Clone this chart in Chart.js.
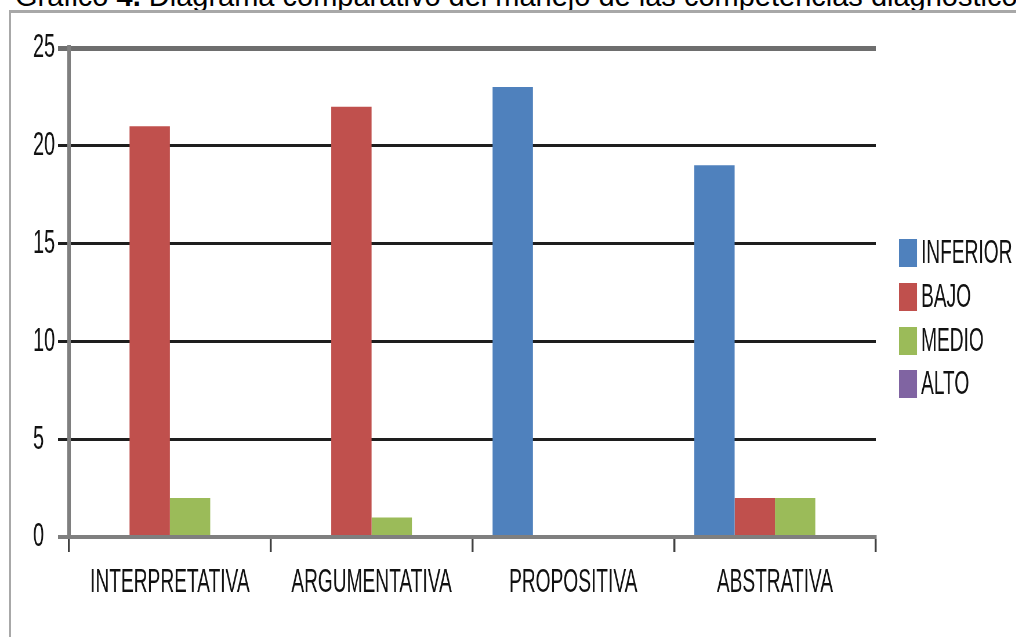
<!DOCTYPE html>
<html>
<head>
<meta charset="utf-8">
<script src="https://cdn.jsdelivr.net/npm/chart.js@4/dist/chart.umd.min.js"></script>
<style>
  html, body { margin: 0; padding: 0; background: #fff; width: 1016px; height: 637px; overflow: hidden; }
  #title { position: absolute; left: 15px; top: -18px; font-family: "Liberation Sans", Arial, sans-serif; font-size: 29px; line-height: 29px; color: #000; white-space: nowrap; }
  #frame { position: absolute; left: 9px; top: 10px; width: 1100px; height: 700px; border-left: 2px solid #a8a8a8; border-top: 3px solid #a8a8a8; }
  #wrap { position: absolute; left: 0; top: 0; width: 1752px; height: 637px; transform: scaleX(0.58); transform-origin: 0 0; }
</style>
</head>
<body>
<div id="title">Gráfico <b>4.</b> Diagrama comparativo del manejo de las competencias diagnóstico</div>
<div id="frame"></div>
<div id="wrap"><canvas id="c"></canvas></div>
<script>
const categories = ['INTERPRETATIVA', 'ARGUMENTATIVA', 'PROPOSITIVA', 'ABSTRATIVA'];
const seriesNames = ['INFERIOR', 'BAJO', 'MEDIO', 'ALTO'];
const inferior = [0, 0, 23, 19];
const bajo = [21, 22, 0, 2];
const medio = [2, 1, 0, 2];
const alto = [0, 0, 0, 0];
const yTicks = [0, 5, 10, 15, 20, 25];
const colors = ['#4F81BD', '#C0504D', '#9BBB59', '#8064A2'];

const S = 0.58;
const FONT = "'Liberation Sans', Arial, sans-serif";

const legendPlugin = {
  id: 'customLegend',
  afterDraw(chart) {
    const ctx = chart.ctx;
    const boxX = 899 / S, boxW = 18 / S, boxH = 28, textX = 921 / S;
    const centers = [253, 297, 341, 384];
    ctx.save();
    ctx.font = '33px ' + FONT;
    ctx.textBaseline = 'middle';
    ctx.textAlign = 'left';
    chart.data.datasets.forEach((ds, i) => {
      const cy = centers[i];
      ctx.fillStyle = ds.backgroundColor;
      ctx.fillRect(boxX, cy - boxH / 2, boxW, boxH);
      ctx.fillStyle = '#111';
      ctx.fillText(ds.label, textX, cy + 1);
    });
    ctx.restore();
  }
};

const seriesData = [inferior, bajo, medio, alto];
new Chart(document.getElementById('c'), {
  type: 'bar',
  data: {
    labels: categories,
    datasets: seriesNames.map((n, i) => ({
      label: n,
      data: seriesData[i],
      backgroundColor: colors[i],
      borderWidth: 0,
      categoryPercentage: 0.8,
      barPercentage: 1.0
    }))
  },
  options: {
    responsive: true,
    maintainAspectRatio: false,
    animation: false,
    devicePixelRatio: 1,
    layout: { padding: { left: 57, right: 242, top: 48, bottom: 0 } },
    plugins: { legend: { display: false }, tooltip: { enabled: false }, title: { display: false } },
    scales: {
      x: {
        afterFit(scale) { scale.height = 100; },
        grid: {
          offset: true,
          drawOnChartArea: true,
          color: (ctx) => ctx.index === 4 ? '#c4c4c4' : 'rgba(0,0,0,0)',
          lineWidth: 2 / S,
          tickColor: '#404040',
          tickWidth: 2 / S,
          tickLength: 15
        },
        border: { color: '#7f7f7f', width: 4 },
        ticks: { color: '#111', font: { size: 33, family: FONT }, padding: 11, maxRotation: 0 }
      },
      y: {
        min: 0, max: 25,
        afterFit(scale) { scale.width = 62; },
        afterBuildTicks(scale) { scale.ticks = yTicks.map(v => ({ value: v })); },
        grid: {
          color: (ctx) => {
            const v = ctx.tick && ctx.tick.value;
            if (v === 25) return '#6e6e6e';
            if (v === 0) return '#7f7f7f';
            return '#1e1e1e';
          },
          lineWidth: (ctx) => {
            const v = ctx.tick && ctx.tick.value;
            if (v === 25) return 5;
            if (v === 0) return 4;
            return 3;
          },
          tickLength: 19
        },
        border: { color: '#7f7f7f', width: 3.5 / S },
        ticks: { color: '#111', font: { size: 34, family: FONT }, padding: 3, crossAlign: 'far', stepSize: 5 }
      }
    }
  },
  plugins: [legendPlugin]
});
</script>
</body>
</html>
